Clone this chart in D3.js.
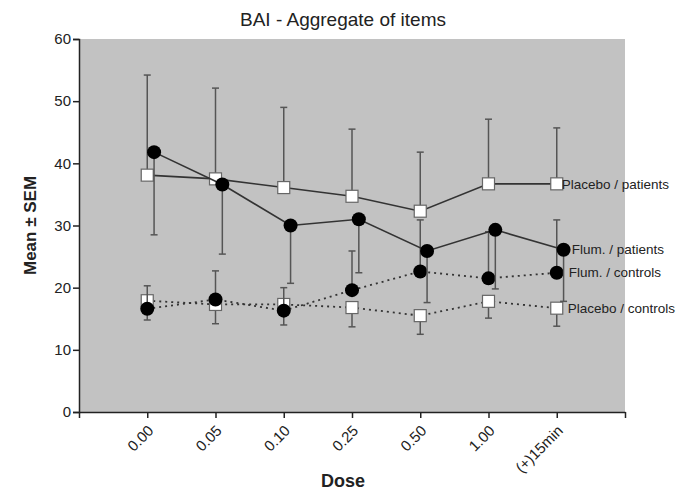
<!DOCTYPE html>
<html>
<head>
<meta charset="utf-8">
<script src="https://cdn.jsdelivr.net/npm/d3@7"></script>
<style>
  body { margin: 0; background: #fff; }
  text { font-family: "Liberation Sans", Arial, sans-serif; }
</style>
</head>
<body>
<div id="chart"></div>
<script>
// Data
const doses = ["0.00", "0.05", "0.10", "0.25", "0.50", "1.00", "(+)15min"];
const yTicks = [0, 10, 20, 30, 40, 50, 60];

const placeboPatients = [38.1, 37.5, 36.1, 34.7, 32.3, 36.7, 36.7];
const placeboPatientsHi = [54.2, 52.1, 49.0, 45.5, 41.8, 47.1, 45.7];

const flumPatients = [41.8, 36.6, 30.0, 31.0, 25.9, 29.3, 26.1];
const flumPatientsLo = [28.5, 25.4, 20.7, 22.4, 17.6, 19.8, 17.8];

const flumControls = [16.6, 18.1, 16.3, 19.6, 22.6, 21.5, 22.4];
const flumControlsHi = [20.3, 22.7, 20.0, 25.9, 30.9, 29.0, 30.9];

const placeboControls = [17.9, 17.3, 17.3, 16.8, 15.5, 17.8, 16.7];
const placeboControlsLo = [14.8, 14.2, 14.0, 13.7, 12.5, 15.1, 13.8];

const width = 687;
const height = 492;
const margin = { top: 39, right: 62, bottom: 80, left: 79 };

const svg = d3.select("#chart")
  .append("svg")
  .attr("width", width)
  .attr("height", height);

// index based x scale, one slot of padding on each side
const x = d3.scaleLinear()
  .domain([-1, doses.length])
  .range([margin.left, width - margin.right]);

const y = d3.scaleLinear()
  .domain([0, 60])
  .range([height - margin.bottom, margin.top]);

// gray plot background
svg.append("rect")
  .attr("x", x(-1))
  .attr("y", y(60))
  .attr("width", x(doses.length) - x(-1))
  .attr("height", y(0) - y(60))
  .attr("fill", "#c2c2c2");

// Title
svg.append("text")
  .attr("x", 343)
  .attr("y", 26)
  .attr("text-anchor", "middle")
  .style("font-size", "19px")
  .attr("fill", "#222")
  .text("BAI - Aggregate of items");

// Axes
const yAxis = svg.append("g")
  .attr("transform", `translate(${margin.left},0)`)
  .call(d3.axisLeft(y).tickValues(yTicks).tickSize(6).tickPadding(2).tickFormat(d3.format("d")));
yAxis.selectAll("text")
  .attr("fill", "#222")
  .style("font-size", "15px")
  .style("font-family", "Liberation Sans, Arial, sans-serif");
yAxis.select(".domain").attr("stroke", "#222").attr("stroke-width", 1.5);
yAxis.selectAll(".tick line").attr("stroke", "#222").attr("stroke-width", 1.5);

const xAxis = svg.append("g")
  .attr("transform", `translate(0,${y(0)})`)
  .call(d3.axisBottom(x).tickValues(d3.range(-1, doses.length + 1)).tickSize(6).tickSizeOuter(0)
    .tickFormat(i => doses[i] || ""));
xAxis.select(".domain").attr("stroke", "#222").attr("stroke-width", 1.5);
xAxis.selectAll(".tick line").attr("stroke", "#222").attr("stroke-width", 1.5);
xAxis.selectAll("text")
  .attr("fill", "#222")
  .style("font-size", "15px")
  .style("font-family", "Liberation Sans, Arial, sans-serif")
  .attr("text-anchor", "end")
  .attr("transform", "translate(3,16) rotate(-45)")
  .attr("dy", "0.35em")
  .attr("y", 0)
  .attr("x", 0);

// Axis labels
svg.append("text")
  .attr("x", 343)
  .attr("y", 487)
  .attr("text-anchor", "middle")
  .style("font-size", "18px")
  .attr("font-weight", "bold")
  .attr("fill", "#222")
  .text("Dose");

svg.append("text")
  .attr("transform", `translate(36,${(y(0) + y(60)) / 2}) rotate(-90)`)
  .attr("text-anchor", "middle")
  .style("font-size", "17px")
  .attr("font-weight", "bold")
  .attr("fill", "#222")
  .text("Mean \u00b1 SEM");

// one function per series: error bars, line, markers
function drawSeries(values, bound, shift, dashed, marker) {
  const g = svg.append("g");
  const cx = i => x(i + shift);

  g.selectAll("line.err")
    .data(values)
    .enter()
    .append("line")
    .attr("x1", (d, i) => cx(i))
    .attr("x2", (d, i) => cx(i))
    .attr("y1", d => y(d))
    .attr("y2", (d, i) => y(bound[i]))
    .attr("stroke", "#555")
    .attr("stroke-width", 1.5);

  g.selectAll("line.cap")
    .data(values)
    .enter()
    .append("line")
    .attr("x1", (d, i) => cx(i) - 3.5)
    .attr("x2", (d, i) => cx(i) + 3.5)
    .attr("y1", (d, i) => y(bound[i]))
    .attr("y2", (d, i) => y(bound[i]))
    .attr("stroke", "#555")
    .attr("stroke-width", 1.5);

  g.append("path")
    .datum(values)
    .attr("fill", "none")
    .attr("stroke", "#333")
    .attr("stroke-width", dashed ? 1.8 : 1.6)
    .attr("stroke-dasharray", dashed ? "2,4" : null)
    .attr("d", d3.line().x((d, i) => cx(i)).y(d => y(d)));

  if (marker === "square") {
    g.selectAll("rect")
      .data(values)
      .enter()
      .append("rect")
      .attr("x", (d, i) => cx(i) - 6)
      .attr("y", d => y(d) - 6)
      .attr("width", 12)
      .attr("height", 12)
      .attr("fill", "#fff")
      .attr("stroke", "#666")
      .attr("stroke-width", 1.2);
  } else {
    g.selectAll("circle")
      .data(values)
      .enter()
      .append("circle")
      .attr("cx", (d, i) => cx(i))
      .attr("cy", d => y(d))
      .attr("r", 7)
      .attr("fill", "#000");
  }
  return cx;
}

drawSeries(placeboPatients, placeboPatientsHi, 0, false, "square");
drawSeries(placeboControls, placeboControlsLo, 0, true, "square");
drawSeries(flumControls, flumControlsHi, 0, true, "circle");
drawSeries(flumPatients, flumPatientsLo, 0.1, false, "circle");

// series labels next to the last point
const last = doses.length - 1;
const labels = [
  { text: "Placebo / patients", v: placeboPatients[last], dx: 5 },
  { text: "Flum. / patients", v: flumPatients[last], dx: 15 },
  { text: "Flum. / controls", v: flumControls[last], dx: 12 },
  { text: "Placebo / controls", v: placeboControls[last], dx: 11 }
];
svg.selectAll("text.series-label")
  .data(labels)
  .enter()
  .append("text")
  .attr("class", "series-label")
  .attr("x", d => x(last) + d.dx)
  .attr("y", d => y(d.v))
  .attr("dy", "0.35em")
  .style("font-size", "13.5px")
  .attr("fill", "#222")
  .text(d => d.text);
</script>
</body>
</html>
